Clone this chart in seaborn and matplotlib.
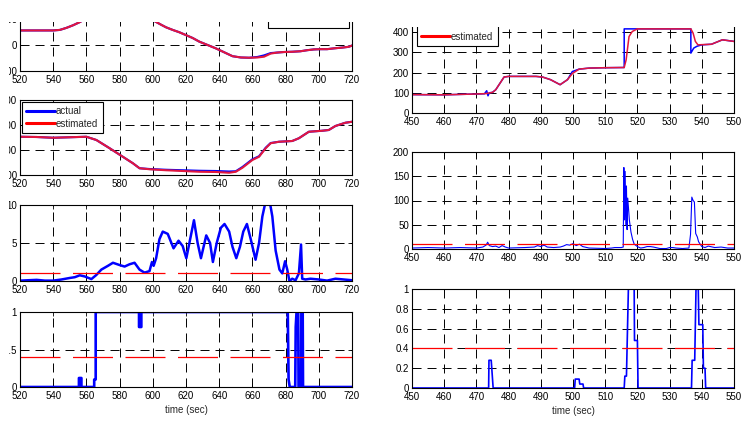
import matplotlib
matplotlib.use('Agg')
import matplotlib.pyplot as plt
import seaborn as sns
from matplotlib.patches import Rectangle

# ---------------- data ----------------
# left column, panel 1
t_l1 = [520, 530, 540, 544, 548, 552, 556, 562, 570, 580, 590, 597, 601, 605, 608, 612, 616, 620, 624, 628,
        633, 638, 643, 648, 653, 658, 663, 667, 671, 675, 679, 684, 689, 693, 697, 701, 705, 709, 714, 718, 720]
est_l1 = [56, 56, 56, 58, 66, 76, 88, 110, 135, 150, 140, 115, 92, 78, 68, 58, 49, 38, 27, 13,
          0, -13, -28, -43, -48, -49, -48, -45, -33, -29, -27, -26, -24, -20, -17, -16, -16, -13, -10, -7, -2]
act_l1 = [56, 56, 56, 58, 66, 76, 88, 110, 135, 150, 140, 115, 92, 78, 68, 58, 49, 38, 27, 13,
          0, -13, -28, -43, -48, -49, -46, -40, -31, -29, -27, -26, -24, -20, -17, -16, -16, -13, -10, -7, -2]

# left column, panel 2
t_l2 = [520, 530, 540, 550, 560, 566, 574, 581, 588, 592, 598, 608, 618, 628, 638, 646, 650, 654, 660, 664,
        668, 671, 676, 684, 688, 694, 702, 706, 710, 716, 720]
est_l2 = [253, 252, 249, 251, 253, 240, 207, 177, 147, 127, 123, 119, 116, 113, 112, 109, 113, 129, 160, 173,
          207, 227, 233, 236, 247, 273, 277, 280, 296, 309, 313]
act_l2 = [253, 252, 249, 251, 253, 240, 207, 177, 147, 127, 124, 121, 119, 117, 116, 114, 115, 132, 163, 175,
          209, 228, 233, 236, 247, 273, 277, 280, 296, 309, 313]

# left column, panel 3
t_l3 = [520, 525, 530, 535, 540, 545, 550, 553, 556, 559, 563, 566, 569, 573, 576, 580, 583, 586, 589, 592,
        595, 598, 599.5, 600.5, 602, 604, 606, 609, 612.5, 615.5, 618, 620.2, 622.5, 624.8, 627, 629, 632.2,
        634.5, 636.2, 638.5, 641, 643.2, 646, 648, 650.3, 652.5, 654.5, 656.7, 659, 661.9, 664, 666, 668, 670,
        672, 674, 676.3, 678, 679.7, 681, 682.3, 684, 686, 688, 689.3, 690, 692, 695, 700, 705, 710, 715, 720]
v_l3 = [0.05, 0.1, 0.15, 0.05, 0.05, 0.2, 0.4, 0.5, 0.75, 0.6, 0.25, 0.8, 1.5, 2.0, 2.4, 2.1, 1.9, 2.2, 2.4, 1.5,
        1.1, 1.3, 2.5, 2.0, 3.0, 5.5, 6.5, 6.2, 4.3, 5.3, 4.6, 3.0, 5.5, 8.0, 5.0, 3.0, 6.0,
        5.0, 2.5, 5.0, 7.0, 7.5, 6.5, 4.5, 3.0, 4.5, 6.5, 7.5, 5.5, 2.8, 5.0, 8.5, 10.5, 11,
        8.5, 4.0, 1.5, 1.0, 2.6, 1.5, 0.0, 0.3, 0.1, 1.0, 4.8, 0.3, 0.2, 0.3, 0.2, 0.05, 0.3, 0.2, 0.1]
thr_l3 = 1.0

# left column, panel 4
t_l4 = [520, 555.5, 555.5, 557, 557, 564.7, 564.7, 565.6, 565.6, 591.7, 591.7, 593.1, 593.1, 681.3, 681.8,
        682.5, 685.8, 686.1, 686.6, 687.6, 687.8, 689.3, 689.5, 690.3, 690.5, 720]
v_l4 = [0, 0, 0.12, 0.12, 0, 0, 0.1, 0.1, 1, 1, 0.8, 0.8, 1, 1, 0.1,
        0, 0, 0.8, 1, 1, 0, 0, 1, 1, 0, 0]
thr_l4 = 0.4

# right column, panel 1
t_r1_act = [450, 460, 470, 472.5, 473.2, 473.6, 474, 475, 476, 478.6, 480, 488.5, 490.5, 493, 496, 498.3,
            499.8, 501.9, 505, 510, 515.9, 515.9, 520, 530, 536.6, 536.6, 537.5, 538.5, 540, 543, 546.4, 550]
act_r1 = [91, 90, 94, 95, 110, 85, 100, 102, 115, 178, 181, 181, 178, 165, 140, 165,
          205, 217, 222, 224, 225, 416, 416, 416, 416, 296, 321, 330, 337, 340, 362, 354]
t_r1_est = [450, 460, 470, 473, 475, 476, 478.6, 480, 488.5, 490.5, 493, 496, 498.3, 499.8, 501.9, 505, 510,
            515.9, 516.5, 517.4, 518.4, 520, 530, 536.6, 537.3, 538, 538.8, 540, 543, 546.4, 550]
est_r1 = [91, 90, 94, 96, 102, 115, 178, 181, 181, 178, 165, 140, 165, 195, 217, 222, 224,
          225, 263, 378, 403, 416, 416, 416, 395, 354, 337, 338, 340, 362, 354]

# right column, panel 2
t_r2 = [450, 455, 460, 465, 470, 472, 473, 473.5, 474, 475,
        476, 477, 478, 479, 480, 485, 488, 489, 490, 491,
        492, 494, 496, 497, 498, 499, 500, 501, 502, 503,
        505, 510, 512, 513, 515, 515.6, 515.8, 516.0, 516.2, 516.4,
        516.6, 516.8, 517, 517.5, 518, 518.5, 519, 520, 521, 522,
        523, 524, 525, 527, 529, 530, 531, 532, 534, 536,
        536.5, 536.9, 537.3, 537.7, 538.1, 538.6, 539, 539.5, 540, 541,
        542, 544, 546, 548, 550]
v_r2 = [2, 3, 2, 3, 2, 4, 8, 14, 7, 5,
        6, 3, 7, 4, 2, 3, 4, 7, 5, 8,
        4, 3, 4, 6, 9, 8, 11, 7, 10, 5,
        2, 1, 2, 3, 3, 4, 168, 60, 160, 50,
        130, 40, 105, 60, 35, 20, 10, 5, 2, 3,
        5, 5, 4, 1, 1, 3, 3, 2, 1, 2,
        30, 107, 100, 97, 32, 25, 15, 10, 5, 3,
        6, 3, 4, 2, 2]
thr_r2 = 10

# right column, panel 3
t_r3 = [450, 473.8, 473.9, 474.6, 475.2, 500.5, 500.7, 501.9, 502.1, 503.1,
        503.3, 515.9, 516.1, 516.6, 517.2, 519.0, 519.1, 520.0, 520.2, 536.8,
        537.0, 537.8, 538.2, 538.9, 539.1, 540.3, 540.5, 541.0, 541.2, 550]
v_r3 = [0, 0, 0.28, 0.28, 0, 0, 0.09, 0.09, 0.04, 0.04,
        0, 0, 0.12, 0.12, 1, 1, 0.48, 0.48, 0, 0,
        0.28, 0.28, 1, 1, 0.64, 0.64, 0.2, 0.2, 0, 0]
thr_r3 = 0.4

left_xticks = [520, 540, 560, 580, 600, 620, 640, 660, 680, 700, 720]
right_xticks = [450, 460, 470, 480, 490, 500, 510, 520, 530, 540, 550]

# ---------------- figure ----------------
sns.set_style('white')
plt.rcParams['font.family'] = ['Liberation Sans', 'DejaVu Sans']
plt.rcParams['lines.scale_dashes'] = False

W, H = 752, 421
fig = plt.figure(figsize=(W / 100, H / 100), dpi=100)

BLUE = '#0000ff'
RED = '#ff0000'
EST = '#e2163e'
THR_DASH = (0, (28.8, 9.0))
GRID_DASH = (0, (6.5, 4.3))


def add_ax(x0, x1, ytop, ybot):
    return fig.add_axes([x0 / W, 1 - ybot / H, (x1 - x0) / W, (ybot - ytop) / H])


def style(ax, xlim, ylim, xticks, yticks, yticklabels=None):
    ax.set_xlim(xlim)
    ax.set_ylim(ylim)
    ax.set_xticks(xticks)
    ax.set_yticks(yticks)
    if yticklabels is not None:
        ax.set_yticklabels(yticklabels)
    ax.tick_params(direction='in', length=3, width=0.6, top=True, right=True,
                   bottom=True, left=True, labelsize=7, colors='black')
    ax.tick_params(axis='x', pad=3)
    ax.tick_params(axis='y', pad=2.2)
    ax.grid(True, color='black', linestyle=GRID_DASH, linewidth=0.7)
    ax.set_axisbelow(True)
    for s in ax.spines.values():
        s.set_visible(True)
        s.set_color('black')
        s.set_linewidth(0.8)
    ax.set_xlabel('')
    ax.set_ylabel('')


def line(ax, x, y, color, lw, label=None):
    sns.lineplot(x=x, y=y, ax=ax, color=color, linewidth=lw, estimator=None,
                 sort=False, label=label, legend=False)


def threshold(ax, xlim, val):
    sns.lineplot(x=list(xlim), y=[val, val], ax=ax, color=RED, linewidth=0.9,
                 estimator=None, sort=False, legend=False)
    ax.lines[-1].set_linestyle(THR_DASH)


def legend(ax, loc, anchor):
    leg = ax.legend(handles=ax.lines[:2], labels=['actual', 'estimated'], loc=loc,
                    bbox_to_anchor=anchor, borderaxespad=0, fontsize=7, frameon=True,
                    fancybox=False, framealpha=1, edgecolor='black',
                    handlelength=2.9, handletextpad=0.15, borderpad=0.45, labelspacing=0.25)
    leg.get_frame().set_linewidth(0.8)
    for h, c in zip(leg.get_lines(), [BLUE, RED]):
        h.set_linewidth(2.2)
        h.set_color(c)


LX = (520, 720)
RX = (450, 550)

# left 1
ax = add_ax(20, 352, -7, 71)
line(ax, t_l1, act_l1, BLUE, 1.5, 'actual')
line(ax, t_l1, est_l1, EST, 1.5, 'estimated')
style(ax, LX, (-100, 200), left_xticks, [-100, 0, 100])
legend(ax, 'lower right', (0.991, 0.551))

# left 2
ax = add_ax(20, 352, 100, 175)
line(ax, t_l2, act_l2, BLUE, 1.5, 'actual')
line(ax, t_l2, est_l2, EST, 1.5, 'estimated')
style(ax, LX, (100, 400), left_xticks, [100, 200, 300, 400])
legend(ax, 'upper left', (0.006, 0.973))

# left 3
ax = add_ax(20, 352, 205, 281)
line(ax, t_l3, v_l3, BLUE, 1.8)
threshold(ax, LX, thr_l3)
style(ax, LX, (0, 10), left_xticks, [0, 5, 10])

# left 4
ax = add_ax(20, 352, 312, 387)
line(ax, t_l4, v_l4, BLUE, 1.9)
threshold(ax, LX, thr_l4)
style(ax, LX, (0, 1), left_xticks, [0, 0.5, 1], ['0', '0.5', '1'])
ax.set_xlabel('time (sec)', fontsize=7, labelpad=3)

# right 1
ax = add_ax(412, 734, 22, 113)
line(ax, t_r1_act, act_r1, BLUE, 1.1, 'actual')
line(ax, t_r1_est, est_r1, EST, 1.1, 'estimated')
style(ax, RX, (0, 450), right_xticks, [0, 100, 200, 300, 400])
legend(ax, 'lower left', (0.0155, 0.736))

# right 2
ax = add_ax(412, 734, 152, 249)
line(ax, t_r2, v_r2, BLUE, 0.8)
threshold(ax, RX, thr_r2)
style(ax, RX, (0, 200), right_xticks, [0, 50, 100, 150, 200])

# right 3
ax = add_ax(412, 734, 289, 388)
line(ax, t_r3, v_r3, BLUE, 1.2)
threshold(ax, RX, thr_r3)
style(ax, RX, (0, 1), right_xticks, [0, 0.2, 0.4, 0.6, 0.8, 1],
      ['0', '0.2', '0.4', '0.6', '0.8', '1'])
ax.set_xlabel('time (sec)', fontsize=7, labelpad=3)

# cropped borders of the original screenshot
for (x0, y0, w, h) in [(0, 0, 376, 21.5), (376, 0, 376, 26.5), (0, 0, 8.5, 421)]:
    fig.add_artist(Rectangle((x0 / W, 1 - (y0 + h) / H), w / W, h / H,
                             transform=fig.transFigure, facecolor='white',
                             edgecolor='none', zorder=10))

fig.savefig('out.png', dpi=100)
